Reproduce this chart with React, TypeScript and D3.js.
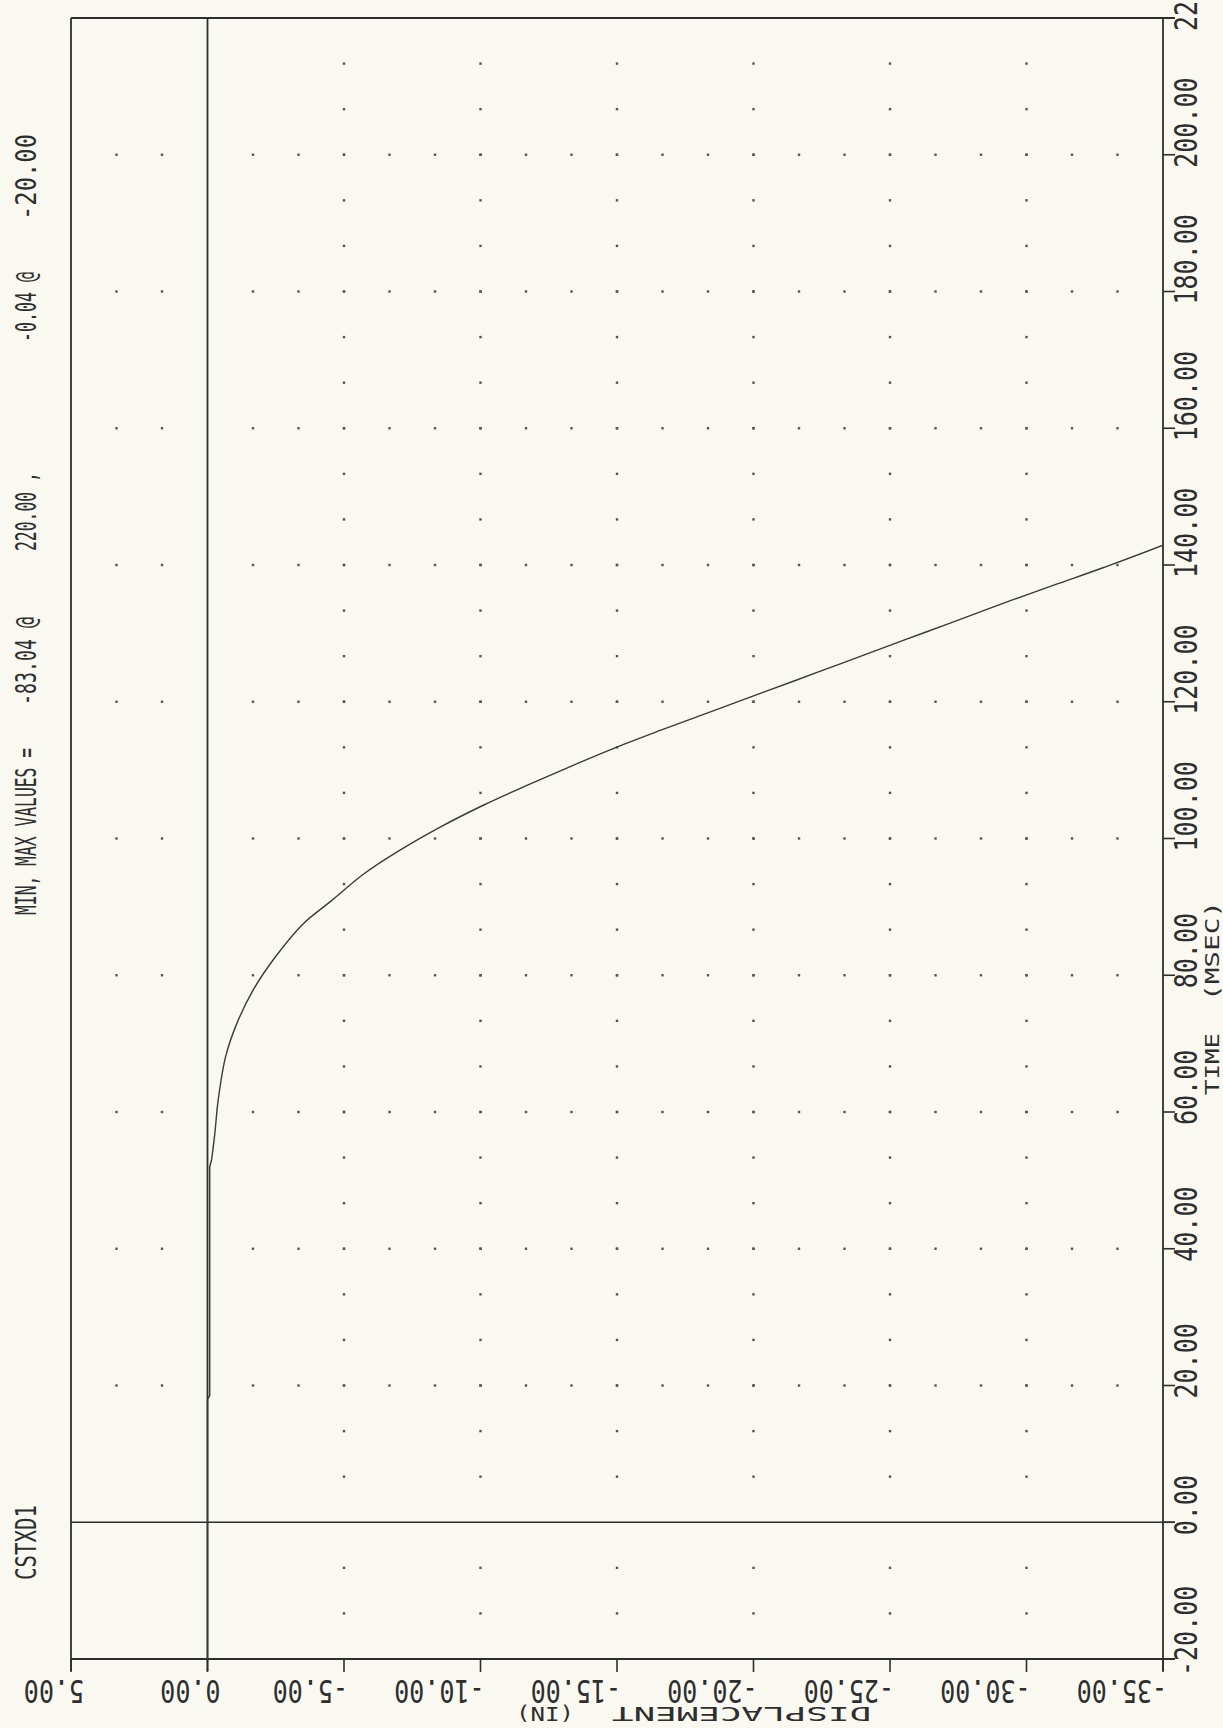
import React from "react";
import * as d3 from "d3";

// ---- data ----
const timeTicks = [-20, 0, 20, 40, 60, 80, 100, 120, 140, 160, 180, 200, 220];
const timeTickLabels = ["-20.00", "0.00", "20.00", "40.00", "60.00", "80.00", "100.00", "120.00", "140.00", "160.00", "180.00", "200.00", "220.00"];
const dispTicks = [5, 0, -5, -10, -15, -20, -25, -30, -35];
const dispTickLabels = ["5.00", "0.00", "-5.00", "-10.00", "-15.00", "-20.00", "-25.00", "-30.00", "-35.00"];

const timeMs = [-20, 18, 18.5, 52, 53, 56.9, 61.7, 68.2, 73.0, 77.9, 82.7, 87.5, 90.8, 94.8, 98.0, 101.7, 104.9, 107.8, 110.6, 113.3, 115.8, 118.2, 120.6, 123.0, 125.4, 127.8, 130.2, 132.6, 135.0, 137.3, 139.6, 142.9, 220];
const displacementIn = [0, 0, -0.08, -0.08, -0.15, -0.27, -0.39, -0.67, -1.08, -1.68, -2.49, -3.5, -4.51, -5.72, -6.93, -8.54, -10.12, -11.72, -13.33, -14.95, -16.58, -18.2, -19.83, -21.46, -23.08, -24.7, -26.32, -27.94, -29.56, -31.18, -32.8, -35.0, -83.04];

const channelName = "CSTXD1";
const minMaxSegments = ["MIN, MAX VALUES =", "-83.04 @", "220.00 ,", "-0.04 @", "-20.00"];
const xTitleParts = ["DISPLACEMENT", "(IN)"];
const yTitleParts = ["TIME", "(MSEC)"];

const W = 1223;
const H = 1728;
const INK = "#2e2e2e";
const FONT = "'DejaVu Sans Mono', 'Liberation Mono', monospace";

export default function App() {
  const x = d3.scaleLinear().domain([5, -35]).range([71, 1163]);
  const y = d3.scaleLinear().domain([-20, 220]).range([1659, 18]);

  const x0 = x(5), x1 = x(-35), yTop = y(220), yBot = y(-20);

  // dotted major grid: dots every 1/3 of a major step along each major line
  const minorX = d3.range(0, 25).map((k) => 5 - (k * 5) / 3);
  const minorT = d3.range(0, 37).map((k) => -20 + (k * 20) / 3);
  const gridRows = timeTicks.filter((t) => t > 0 && t < 220);
  const gridCols = dispTicks.filter((d) => d < 0 && d > -35);

  const dots: { cx: number; cy: number }[] = [];
  gridRows.forEach((t) => {
    minorX.forEach((d) => {
      if (d < 4.9 && d > -34.9 && Math.abs(d) > 0.01) dots.push({ cx: x(d), cy: y(t) });
    });
  });
  gridCols.forEach((d) => {
    minorT.forEach((t) => {
      if (t > -19.9 && t < 219.9 && Math.abs(t) > 0.01) dots.push({ cx: x(d), cy: y(t) });
    });
  });

  const pts = timeMs.map((t, i) => [displacementIn[i], t] as [number, number]);
  const straight = d3
    .line<[number, number]>()
    .x((p) => x(p[0]))
    .y((p) => y(p[1]));
  const smooth = d3
    .line<[number, number]>()
    .x((p) => x(p[0]))
    .y((p) => y(p[1]))
    .curve(d3.curveCatmullRom.alpha(0.5));

  // early flat part drawn straight, the rest smoothed
  const flatPts = pts.slice(0, 5);
  const curvePts = pts.slice(4);

  // title segment positions along the vertical (start y, end y)
  const segStarts = [915, 705, 551, 342, 220];
  const segEnds = [748, 617, 472, 272, 134];

  return (
    <svg
      width={W}
      height={H}
      style={{ position: "absolute", left: 0, top: 0, background: "#f9f9f1" }}
    >
      <rect x={0} y={0} width={W} height={H} fill="#f9f9f1" />
      <defs>
        <clipPath id="plotClip">
          <rect x={x0} y={yTop} width={x1 - x0} height={yBot - yTop} />
        </clipPath>
      </defs>

      {/* grid dots */}
      {dots.map((p, i) => (
        <rect key={i} x={p.cx - 1.2} y={p.cy - 1.2} width={2.4} height={2.4} fill="#555" />
      ))}

      {/* frame */}
      <line x1={x0} y1={yTop} x2={x1 + 12} y2={yTop} stroke={INK} strokeWidth={1.8} />
      <line x1={x0} y1={yBot} x2={x1 + 12} y2={yBot} stroke={INK} strokeWidth={1.8} />
      <line x1={x0} y1={yTop} x2={x0} y2={yBot + 12} stroke={INK} strokeWidth={1.8} />
      <line x1={x1} y1={yTop} x2={x1} y2={yBot + 12} stroke={INK} strokeWidth={1.8} />

      {/* zero lines */}
      <line x1={x(0)} y1={yTop} x2={x(0)} y2={yBot + 12} stroke={INK} strokeWidth={1.8} />
      <line x1={x0} y1={y(0)} x2={x1 + 12} y2={y(0)} stroke={INK} strokeWidth={1.6} />

      {/* bottom ticks & labels (rotated 180) */}
      {dispTicks.map((d, i) => (
        <g key={"bx" + i}>
          <line x1={x(d)} y1={yBot} x2={x(d)} y2={yBot + 13} stroke={INK} strokeWidth={1.6} />
          <text
            transform={`translate(${x(d) + (dispTickLabels[i].startsWith("-") ? 4 : 13)},${yBot + 21}) rotate(180) scale(1,1.25)`}
            fontFamily={FONT}
            fontSize={25}
            fill={INK}
          >
            {dispTickLabels[i]}
          </text>
        </g>
      ))}

      {/* right ticks & labels (rotated -90) */}
      {timeTicks.map((t, i) => (
        <g key={"ty" + i}>
          <line x1={x1} y1={y(t)} x2={x1 + 12} y2={y(t)} stroke={INK} strokeWidth={1.6} />
          <text
            transform={`translate(${1197},${y(t) + (timeTickLabels[i].startsWith("-") ? 17 : 13)}) rotate(-90) scale(1,1.25)`}
            fontFamily={FONT}
            fontSize={25}
            fill={INK}
          >
            {timeTickLabels[i]}
          </text>
        </g>
      ))}

      {/* axis titles */}
      <text transform={`translate(871,1707) rotate(180)`} fontFamily={FONT} fontSize={19} fill={INK} textLength={259} lengthAdjust="spacingAndGlyphs">
        {xTitleParts[0]}
      </text>
      <text transform={`translate(574,1707) rotate(180)`} fontFamily={FONT} fontSize={19} fill={INK} textLength={58} lengthAdjust="spacingAndGlyphs">
        {xTitleParts[1]}
      </text>
      <text transform={`translate(1219,1095) rotate(-90)`} fontFamily={FONT} fontSize={19} fill={INK} textLength={62} lengthAdjust="spacingAndGlyphs">
        {yTitleParts[0]}
      </text>
      <text transform={`translate(1219,1001) rotate(-90)`} fontFamily={FONT} fontSize={19} fill={INK} textLength={100} lengthAdjust="spacingAndGlyphs">
        {yTitleParts[1]}
      </text>

      {/* header (rotated) */}
      <text transform={`translate(36,1580) rotate(-90) scale(1,1.2)`} fontFamily={FONT} fontSize={24} fill={INK} textLength={75} lengthAdjust="spacingAndGlyphs">
        {channelName}
      </text>
      {minMaxSegments.map((s, i) => (
        <text
          key={"mm" + i}
          transform={`translate(36,${segStarts[i]}) rotate(-90) scale(1,1.2)`}
          fontFamily={FONT}
          fontSize={24}
          fill={INK}
          textLength={segStarts[i] - segEnds[i]}
          lengthAdjust="spacingAndGlyphs"
        >
          {s}
        </text>
      ))}

      {/* data curve */}
      <g clipPath="url(#plotClip)">
        <path d={straight(flatPts) || ""} fill="none" stroke="#3a3a3a" strokeWidth={1.5} />
        <path d={smooth(curvePts) || ""} fill="none" stroke="#3a3a3a" strokeWidth={1.4} />
      </g>
    </svg>
  );
}
